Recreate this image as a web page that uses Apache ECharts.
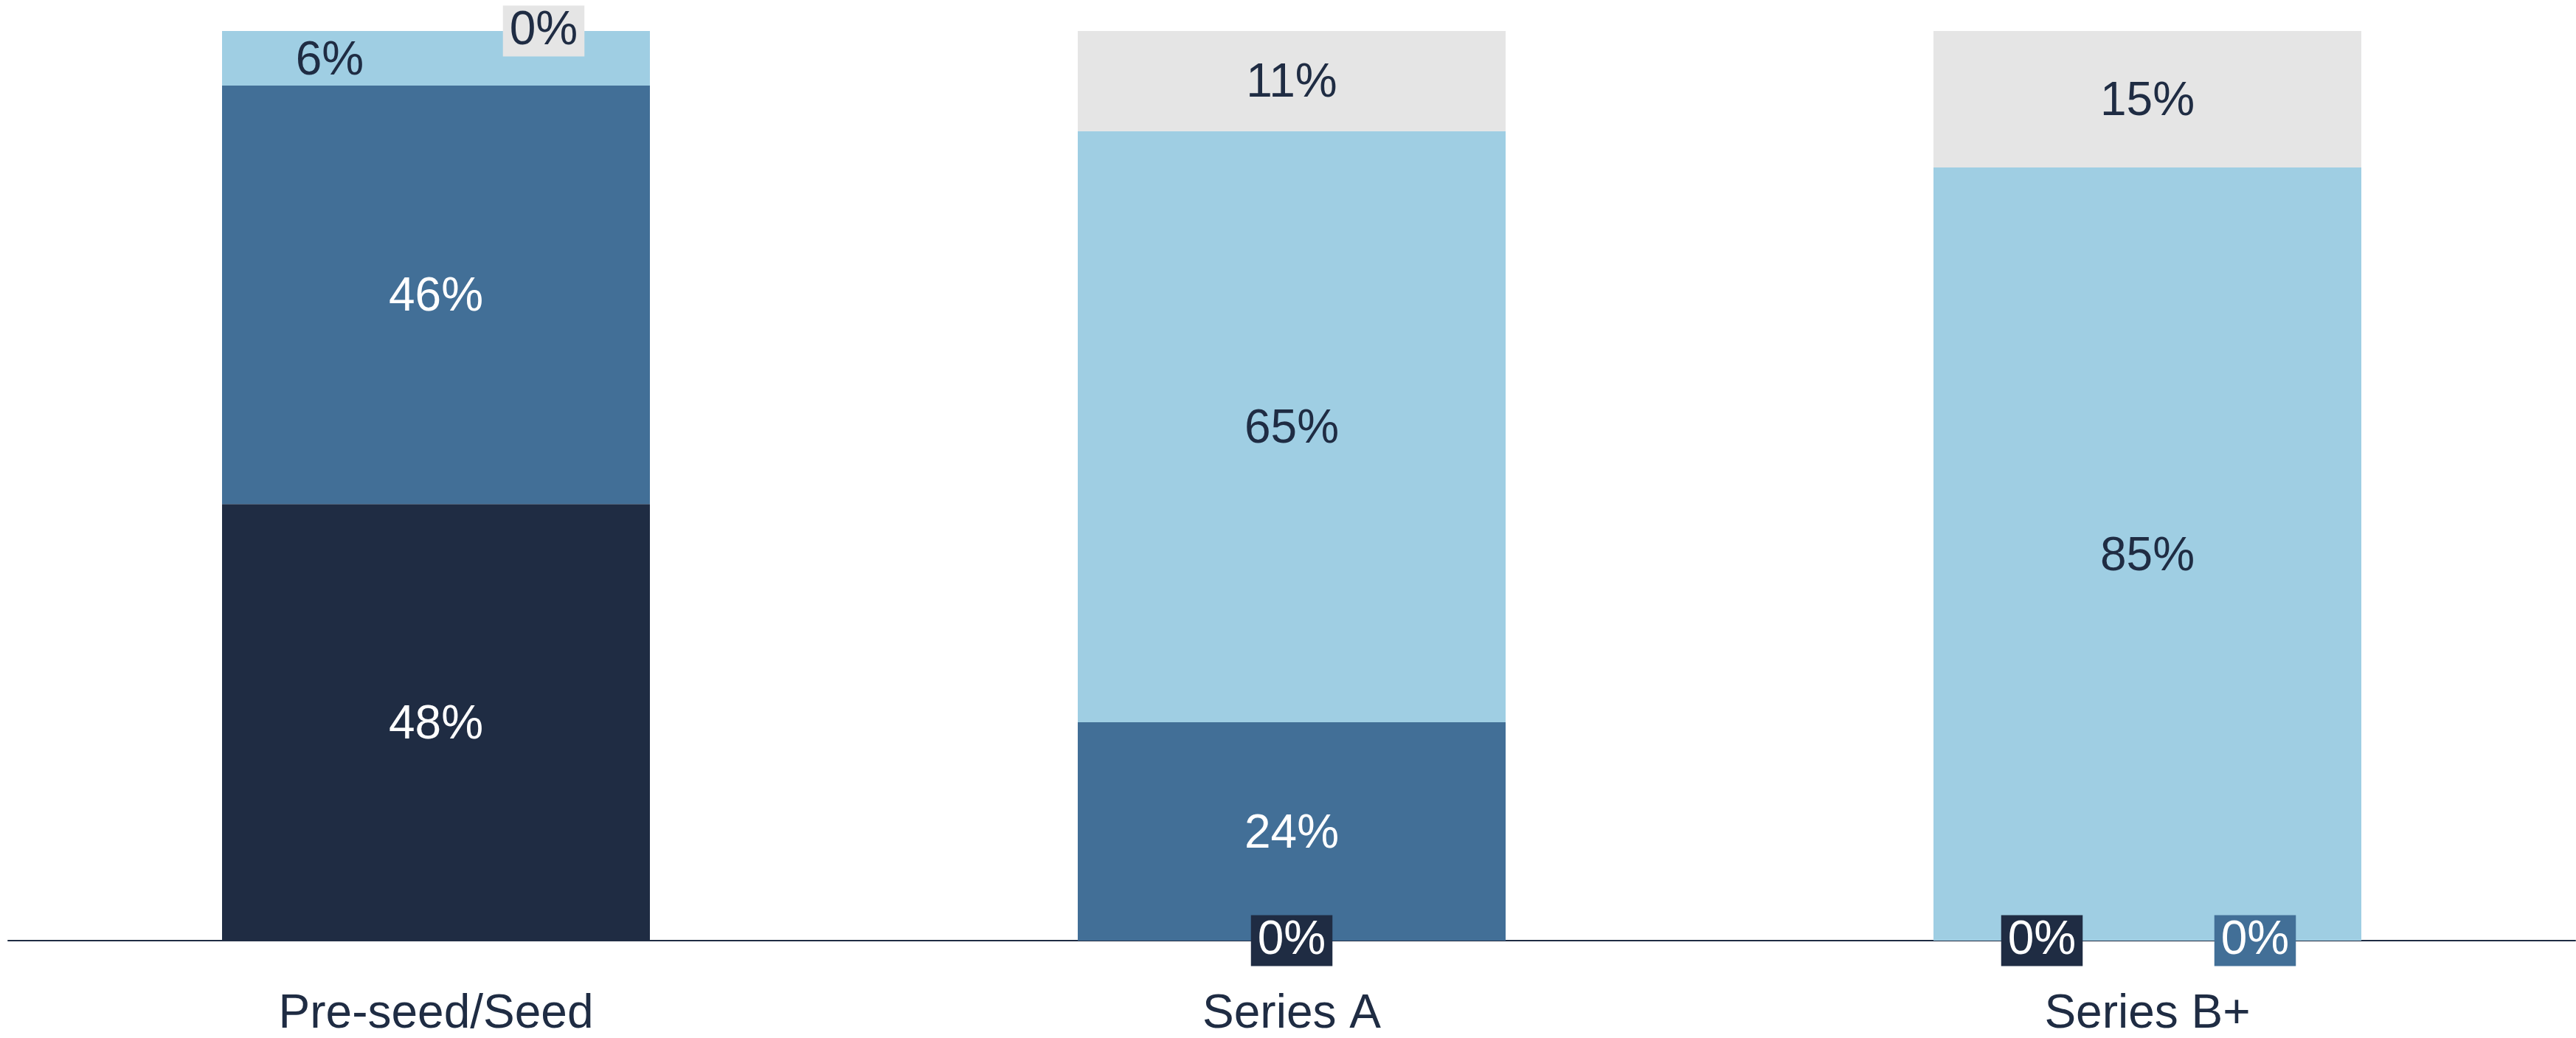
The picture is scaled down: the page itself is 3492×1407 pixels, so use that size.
<!DOCTYPE html>
<html>
<head>
<meta charset="utf-8">
<script src="https://cdn.jsdelivr.net/npm/echarts@6/dist/echarts.min.js"></script>
<style>
  html, body { margin: 0; padding: 0; background: #fff; }
  #main { width: 3492px; height: 1407px; }
</style>
</head>
<body>
<div id="main"></div>
<script>
var categories = ['Pre-seed/Seed', 'Series A', 'Series B+'];
var navyVals = [48, 0, 0];
var midVals = [46, 24, 0];
var lightVals = [6, 65, 85];
var greyVals = [0, 11, 15];

var NAVY = '#1f2c43';
var MID = '#426f97';
var LIGHT = '#9fcee3';
var GREY = '#e5e5e5';
var FONT = "'Liberation Sans', Arial, sans-serif";

// nudges for labels that would overlap
var labelShift = {
    navy: [[0, 4], [0, 0], [-143, 0]],
    mid: [[0, 4], [0, 4], [146, 0]],
    light: [[-144, 4], [0, 4], [0, 4]],
    grey: [[146, 0], [0, 4], [0, 4]]
};

function makeData(vals, key, bg) {
    return vals.map(function (v, i) {
        var item = { value: v, label: { offset: labelShift[key][i] } };
        if (v === 0) {
            item.label.backgroundColor = bg;
            item.label.padding = [3, 9, 2, 9];
        }
        return item;
    });
}

function makeSeries(name, vals, key, color, textColor) {
    return {
        name: name,
        type: 'bar',
        stack: 'total',
        barWidth: '50%',
        animation: false,
        itemStyle: { color: color },
        label: {
            show: true,
            position: 'inside',
            formatter: '{c}%',
            color: textColor,
            fontSize: 64,
            fontFamily: FONT
        },
        data: makeData(vals, key, color)
    };
}

var option = {
    backgroundColor: '#fff',
    grid: {
        left: 11,
        right: 1,
        top: 42,
        bottom: 132
    },
    xAxis: {
        type: 'category',
        data: categories,
        axisLine: { lineStyle: { color: NAVY, width: 2 } },
        axisTick: { show: false },
        axisLabel: {
            color: NAVY,
            fontSize: 64,
            fontFamily: FONT,
            margin: 68
        }
    },
    yAxis: {
        type: 'value',
        min: 0,
        max: 100,
        show: false,
        splitLine: { show: false }
    },
    series: [
        makeSeries('navy', navyVals, 'navy', NAVY, '#ffffff'),
        makeSeries('mid', midVals, 'mid', MID, '#ffffff'),
        makeSeries('light', lightVals, 'light', LIGHT, NAVY),
        makeSeries('grey', greyVals, 'grey', GREY, NAVY)
    ]
};

echarts.init(document.getElementById('main')).setOption(option);
</script>
</body>
</html>
